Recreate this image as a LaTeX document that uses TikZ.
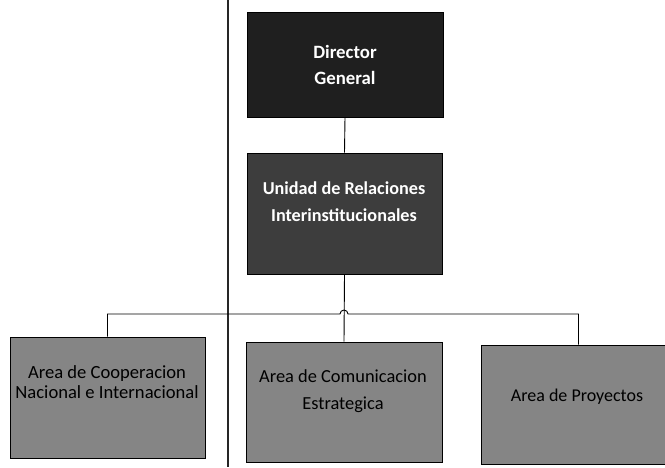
\documentclass[tikz,border=0pt]{standalone}
\usepackage{fontspec}
\setmainfont{Carlito}
\begin{document}
\begin{tikzpicture}[x=1pt,y=-1pt,
  box/.style={draw=black,line width=0.9pt,rectangle,inner sep=0pt,anchor=center},
  topbox/.style={box,fill=black!88},
  midbox/.style={box,fill=black!76},
  lowbox/.style={box,fill=black!48},
  wtxt/.style={text=white,font=\bfseries\fontsize{18.8}{26}\selectfont,align=center,inner sep=0pt},
  btxt/.style={text=black,align=center,inner sep=0pt},
  conn/.style={draw=black,line width=0.9pt},
  scanline/.style={draw=black!85,line width=1.1pt}]
\useasboundingbox (0,0) rectangle (665,467);
\fill[white] (0,0) rectangle (665,467);
% scan fold line
\coordinate (s1) at (228,0);
\coordinate (s2) at (228,467);
\draw[scanline] (s1) -- (s2);
% boxes
\node[topbox,minimum width=196pt,minimum height=105pt] (dg) at (345,64.5) {};
\node[midbox,minimum width=195pt,minimum height=121pt] (ur) at (344.5,213.5) {};
\node[lowbox,minimum width=195pt,minimum height=121pt] (ac) at (107.5,397.5) {};
\node[lowbox,minimum width=196pt,minimum height=120pt] (am) at (344,402) {};
\node[lowbox,minimum width=195pt,minimum height=119pt] (ap) at (578.5,404.5) {};
% texts
\node[wtxt] (dgt) at (345,65) {Director\\General};
\node[wtxt,font=\bfseries\fontsize{18.2}{27}\selectfont] (urt) at (344,202) {Unidad de Relaciones\\Interinstitucionales};
\node[btxt,font=\fontsize{18.6}{20}\selectfont] (act) at (107,382) {Area de Cooperacion\\Nacional e Internacional};
\node[btxt,font=\fontsize{18.4}{27}\selectfont] (amt) at (343,391.5) {Area de Comunicacion\\Estrategica};
\node[btxt,font=\fontsize{18}{22}\selectfont] (apt) at (577,397) {Area de Proyectos};
% connectors
\draw[conn] (dg.south) -- (ur.north);
\draw[conn] (ur.south) -- (am.north);
\coordinate (jmp) at (344,314);
\draw[conn] (ac.north) |- ([xshift=-4pt]jmp) arc[start angle=180,end angle=0,radius=4pt] -| (ap.north);
\end{tikzpicture}
\end{document}
